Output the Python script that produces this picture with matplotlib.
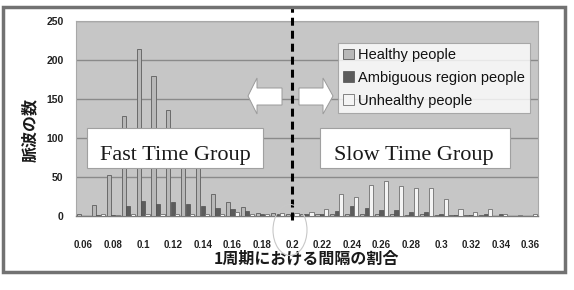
import numpy as np
import matplotlib.pyplot as plt
import matplotlib.patches as mpatches
from matplotlib.lines import Line2D

plt.rcParams['font.family'] = ['Liberation Sans', 'DejaVu Sans']

W, H = 574, 290

# interval ratio per cycle (categories)
ratios = ['0.06', '0.07', '0.08', '0.09', '0.1', '0.11', '0.12', '0.13', '0.14', '0.15',
          '0.16', '0.17', '0.18', '0.19', '0.2', '0.21', '0.22', '0.23', '0.24', '0.25',
          '0.26', '0.27', '0.28', '0.29', '0.3', '0.31', '0.32', '0.33', '0.34', '0.35', '0.36']
healthy = [3, 14, 52, 128, 214, 179, 136, 100, 62, 28,
           18, 11, 4, 4, 3, 3, 3, 2, 3, 2,
           2, 2, 1, 2, 1, 1, 1, 1, 0, 0, 0]
ambiguous = [0, 1, 1, 13, 19, 15, 18, 16, 13, 10,
             9, 7, 3, 2, 1, 2, 2, 6, 13, 10,
             8, 8, 5, 5, 2, 1, 1, 3, 2, 0, 0]
unhealthy = [0, 2, 1, 2, 2, 2, 2, 2, 3, 3,
             5, 3, 3, 4, 4, 5, 9, 28, 24, 40,
             45, 38, 36, 36, 22, 9, 5, 9, 2, 1, 2]
series_names = ['Healthy people', 'Ambiguous region people', 'Unhealthy people']
yticks = [0, 50, 100, 150, 200, 250]


def fx(px):
    return px / W


def fy(py):
    return 1 - py / H


fig = plt.figure(figsize=(W / 100, H / 100), dpi=100)
fig.patch.set_facecolor('white')
ax = fig.add_axes([fx(76), fy(216), 462 / W, 195 / H])
ax.set_facecolor('#c6c6c6')

x = np.arange(len(ratios))
bw = 0.28
b1 = ax.bar(x - 0.3, healthy, bw, color='#b8b8b8', edgecolor='#6a6a6a', linewidth=0.7,
            label=series_names[0], zorder=3)
b2 = ax.bar(x, ambiguous, bw, color='#5c5c5c', edgecolor='#505050', linewidth=0.5,
            label=series_names[1], zorder=3)
b3 = ax.bar(x + 0.3, unhealthy, bw, color='#f4f4f4', edgecolor='#707070', linewidth=0.6,
            label=series_names[2], zorder=3)

ax.set_xlim(-0.5, len(ratios) - 0.5)
ax.set_ylim(0, 250)
ax.set_yticks(yticks)
ax.set_yticklabels([str(v) for v in yticks], fontsize=7.5, fontweight='bold', color='#222222')
ax.set_xticks(x[::2])
ax.set_xticklabels(ratios[::2], fontsize=7, fontweight='bold', color='#222222')
ax.tick_params(axis='both', length=0)
ax.tick_params(axis='y', pad=9)
ax.tick_params(axis='x', pad=17)
ax.yaxis.grid(True, color='#8a8a8a', linewidth=1.0, zorder=1)
ax.set_axisbelow(True)
for s in ['left', 'top', 'right']:
    ax.spines[s].set_color('#a8a8a8')
    ax.spines[s].set_linewidth(0.8)
ax.spines['bottom'].set_color('#7a7a7a')
ax.spines['bottom'].set_linewidth(1.0)

leg = ax.legend(handles=[b1, b2, b3], loc='upper left', bbox_to_anchor=(0.567, 0.887),
                borderaxespad=0, fontsize=10.5, frameon=True, fancybox=False,
                handlelength=0.75, handleheight=0.75, handletextpad=0.3,
                labelspacing=0.6, borderpad=0.35, edgecolor='#9a9a9a')
leg.get_frame().set_linewidth(0.8)
for t in leg.get_texts():
    t.set_color('#111111')

# dashed separator at 0.2
sep = Line2D([14, 14], [-0.02, 1.067], transform=ax.get_xaxis_transform(), color='black',
             linewidth=2.2, clip_on=False, zorder=6)
sep.set_dashes((2.6, 1.65))
ax.add_line(sep)

# text boxes
for (x0, x1, label, cx) in [(87, 263, 'Fast Time Group', 175), (320, 510, 'Slow Time Group', 414)]:
    fig.add_artist(mpatches.Rectangle((fx(x0), fy(168)), (x1 - x0) / W, 40 / H,
                                      transform=fig.transFigure, facecolor='white',
                                      edgecolor='#a0a0a0', linewidth=0.8, zorder=5))
    fig.text(fx(cx), fy(160), label, ha='center', va='baseline', fontsize=16,
             family='Liberation Serif', color='#1a1a1a', zorder=6)

# white arrows
left_arrow = [(248, 96), (257, 78), (257, 88), (282, 88), (282, 105), (257, 105), (257, 114)]
right_arrow = [(333, 96), (323, 78), (323, 88), (299, 88), (299, 105), (323, 105), (323, 114)]
for pts in [left_arrow, right_arrow]:
    fig.add_artist(mpatches.Polygon([(fx(a), fy(b)) for a, b in pts], closed=True,
                                    transform=fig.transFigure, facecolor='white',
                                    edgecolor='#9a9a9a', linewidth=0.7, zorder=5))

# highlight ellipse around 0.2
fig.add_artist(mpatches.Ellipse((fx(290), fy(230)), 34 / W, 51 / H, transform=fig.transFigure,
                                fill=False, edgecolor='#c8c8c8', linewidth=0.8, zorder=5))

# axis labels
fig.text(fx(306), fy(258), '1周期における間隔の割合', ha='center', va='center', fontsize=11.5,
         fontweight='bold', family=['Noto Sans CJK JP', 'DejaVu Sans'], color='#1a1a1a')
fig.text(fx(30), fy(130), '脈波の数', ha='center', va='center', rotation=90, fontsize=11.5,
         fontweight='bold', family=['Noto Sans CJK JP', 'DejaVu Sans'], color='#1a1a1a')

# outer frame
fig.add_artist(mpatches.Rectangle((fx(3), fy(272)), 562 / W, 265 / H, transform=fig.transFigure,
                                  fill=False, edgecolor='#727272', linewidth=2.5, zorder=7))

fig.savefig('out.png', dpi=100)
